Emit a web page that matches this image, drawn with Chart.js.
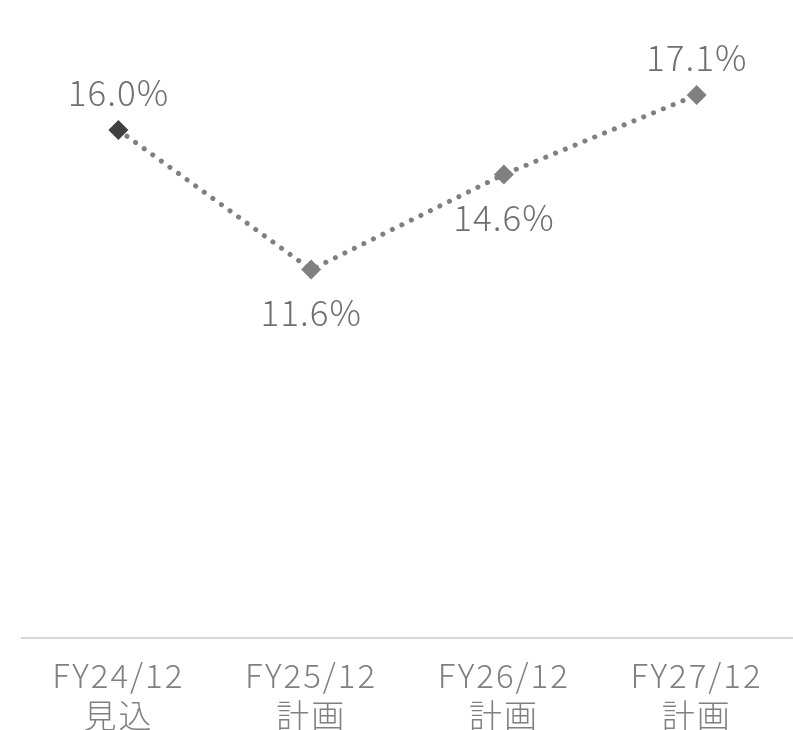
<!DOCTYPE html>
<html>
<head>
<meta charset="utf-8">
<script src="https://cdn.jsdelivr.net/npm/chart.js@4"></script>
<style>
  html, body { margin: 0; padding: 0; background: #fff; }
  #wrap { width: 793px; height: 730px; }
</style>
</head>
<body>
<div id="wrap"><canvas id="chart"></canvas></div>
<script>
const categories = [['FY24/12', '見込'], ['FY25/12', '計画'], ['FY26/12', '計画'], ['FY27/12', '計画']];
const margins = [16.0, 11.6, 14.6, 17.1];
const labelSides = ['above', 'below', 'below', 'above'];
const pointColors = ['#404040', '#808080', '#808080', '#808080'];

// slightly wider tracking for the tick text
const tracking = {
    id: 'tracking',
    beforeDraw(chart) {
        chart.ctx.letterSpacing = '2px';
    }
};

// draws the % labels next to each point
const valueLabels = {
    id: 'valueLabels',
    afterDatasetsDraw(chart) {
        const ctx = chart.ctx;
        const meta = chart.getDatasetMeta(0);
        ctx.save();
        ctx.letterSpacing = '1px';
        ctx.font = '300 35px "Noto Sans CJK JP", "Noto Sans", sans-serif';
        ctx.fillStyle = '#707070';
        ctx.textAlign = 'center';
        ctx.textBaseline = 'middle';
        meta.data.forEach((pt, i) => {
            const txt = margins[i].toFixed(1) + '%';
            const dy = labelSides[i] === 'above' ? -37 : 43;
            ctx.fillText(txt, pt.x, pt.y + dy);
        });
        ctx.restore();
    }
};

new Chart(document.getElementById('chart'), {
    type: 'line',
    data: {
        labels: categories,
        datasets: [{
            data: margins,
            borderColor: '#808080',
            borderWidth: 5,
            borderDash: [0.1, 10.5],
            borderCapStyle: 'round',
            fill: false,
            tension: 0,
            pointStyle: 'rectRot',
            pointRadius: 10,
            pointBorderWidth: 0,
            pointBackgroundColor: pointColors,
            pointBorderColor: pointColors
        }]
    },
    options: {
        responsive: true,
        maintainAspectRatio: false,
        animation: false,
        layout: { autoPadding: false, padding: { left: 22, right: 0, top: 3, bottom: -23 } },
        plugins: {
            legend: { display: false },
            tooltip: { enabled: false }
        },
        scales: {
            y: {
                display: false,
                min: 0,
                max: 20
            },
            x: {
                offset: true,
                grid: { display: false, drawTicks: false },
                border: { display: true, color: '#d9d9d9', width: 2 },
                ticks: {
                    color: '#808080',
                    padding: 18,
                    maxRotation: 0,
                    font: { family: '"Noto Sans CJK JP", sans-serif', weight: '300', size: 33, lineHeight: 1.2 }
                }
            }
        }
    },
    plugins: [tracking, valueLabels]
});
</script>
</body>
</html>
